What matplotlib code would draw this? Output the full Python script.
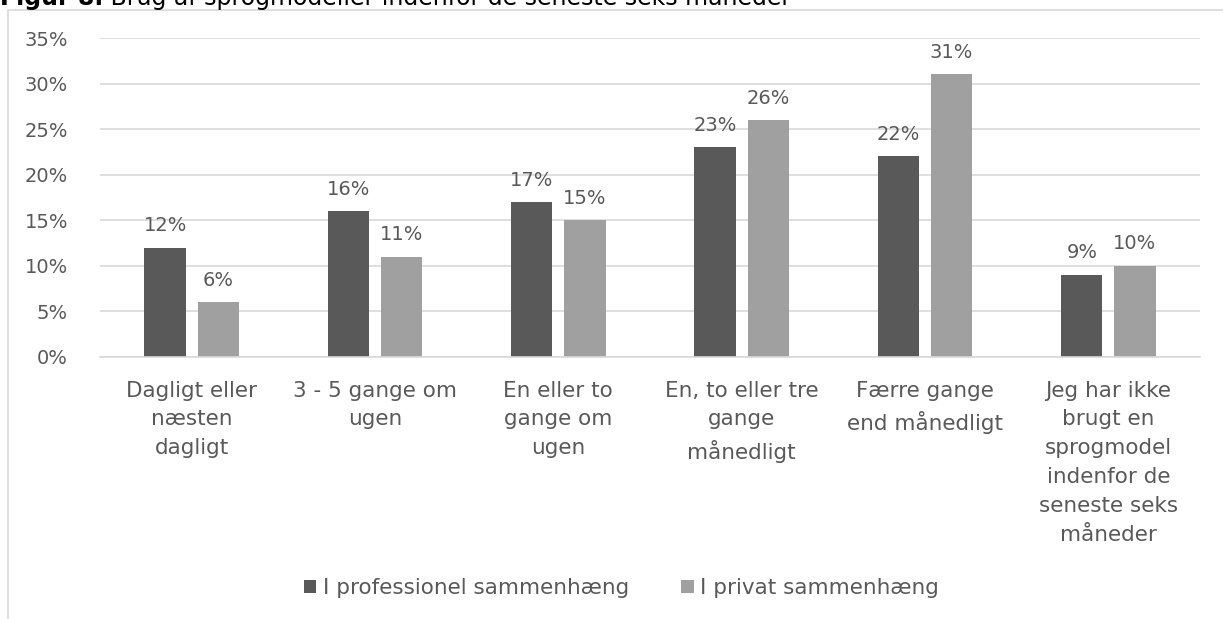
import matplotlib
matplotlib.use("Agg")
import matplotlib.pyplot as plt
import numpy as np
from matplotlib.patches import Rectangle
from matplotlib.ticker import PercentFormatter

# data
categories = [
    "Dagligt eller\nnæsten\ndagligt",
    "3 - 5 gange om\nugen",
    "En eller to\ngange om\nugen",
    "En, to eller tre\ngange\nmånedligt",
    "Færre gange\nend månedligt",
    "Jeg har ikke\nbrugt en\nsprogmodel\nindenfor de\nseneste seks\nmåneder",
]
professionel = [12, 16, 17, 23, 22, 9]
privat = [6, 11, 15, 26, 31, 10]
series_names = ["I professionel sammenhæng", "I privat sammenhæng"]
title_bold = "Figur 8."
title_rest = " Brug af sprogmodeller indenfor de seneste seks måneder"

TXT = "#595959"
COLORS = ["#595959", "#a0a0a0"]
plt.rcParams["font.family"] = ["DejaVu Sans"]
FS_NUM = 14
FS_TXT = 15.5

fig = plt.figure(figsize=(12.23, 6.19), dpi=100)
ax = fig.add_axes([100 / 1223, 1 - 357 / 619, 1100 / 1223, 319 / 619])

# ramme om figuren (skæres af billedkanten)
fig.patches.append(Rectangle((8 / 1223, -0.5), 2, 1.5 - 10 / 619,
                             transform=fig.transFigure, fill=False,
                             edgecolor="#d9d9d9", linewidth=1.2))

x = np.arange(len(categories))
w = 0.225
off = 0.145
for i, (vals, name) in enumerate(zip([professionel, privat], series_names)):
    bars = ax.bar(x + (i * 2 - 1) * off, vals, w, color=COLORS[i], label=name, zorder=2)
    for b, v in zip(bars, vals):
        ax.annotate(f"{v}%", (b.get_x() + b.get_width() / 2, v),
                    xytext=(0, 9), textcoords="offset points",
                    ha="center", va="bottom", fontsize=FS_NUM, color=TXT)

ax.set_xlim(-0.5, len(categories) - 0.5)
ax.set_ylim(0, 35)
ax.set_yticks(np.arange(0, 36, 5))
ax.yaxis.set_major_formatter(PercentFormatter(decimals=0))
ax.set_xticks(x)
ax.set_xticklabels(categories, fontsize=FS_TXT, color=TXT, linespacing=1.55)
ax.tick_params(axis="x", length=0, pad=17)
ax.tick_params(axis="y", length=0, pad=23, labelsize=FS_NUM, labelcolor=TXT)
ax.grid(axis="y", color="#d9d9d9", linewidth=1.2, zorder=0)
for s in ["top", "right", "left"]:
    ax.spines[s].set_visible(False)
ax.spines["bottom"].set_color("#d9d9d9")
ax.spines["bottom"].set_linewidth(1.2)

fig.legend(loc="center", bbox_to_anchor=(0.508, 1 - 588 / 619), ncol=2, frameon=False,
           fontsize=FS_TXT, labelcolor=TXT, handlelength=0.6, handleheight=0.6,
           handletextpad=0.3, columnspacing=2.4)

t = fig.text(0.0, 1 - 5 / 619, title_bold, fontsize=17, fontweight="bold",
             color="#000000", va="baseline", ha="left")
fig.canvas.draw()
bb = t.get_window_extent()
fig.text(bb.x1 / fig.bbox.width, 1 - 5 / 619, title_rest, fontsize=17,
         color="#000000", va="baseline", ha="left")

fig.savefig("out.png", dpi=100)
